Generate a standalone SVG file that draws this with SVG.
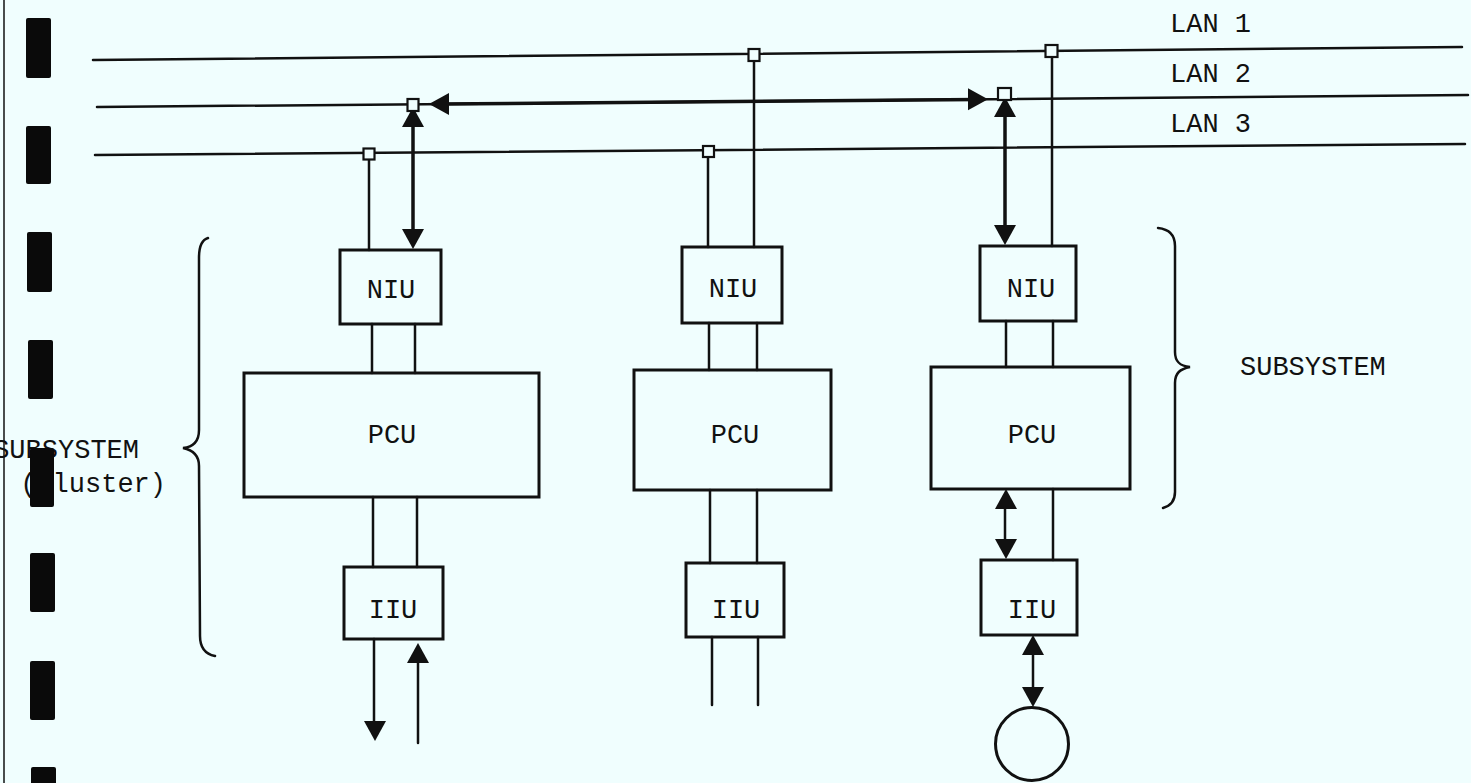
<svg xmlns="http://www.w3.org/2000/svg" xmlns:xlink="http://www.w3.org/1999/xlink" width="1471" height="783" viewBox="0 0 1471 783">
<style>
.ln{stroke:#111;stroke-width:2.5;fill:none;stroke-linecap:round}
.thk{stroke:#111;stroke-width:3.5;fill:none}
.box{fill:none;stroke:#111;stroke-width:3}
.sq{fill:#f0fefe;stroke:#111;stroke-width:2.2}
.tx{font-family:"Liberation Mono","Courier New",monospace;font-size:27px;fill:#111}
.bar{fill:#0a0a0a}
</style>
<defs>
<polygon id="tri" points="0,0 -11,-20 11,-20" fill="#111"/>
</defs>
<rect width="1471" height="783" fill="#f0fefe"/>
<line x1="4" y1="0" x2="4" y2="783" stroke="#111" stroke-width="1.5"/>

<g id="connectors">
<line class="ln" x1="93" y1="60" x2="1462" y2="47"/>
<line class="ln" x1="97" y1="107" x2="1468" y2="95"/>
<line class="ln" x1="95" y1="155" x2="1465" y2="144"/>
<line class="thk" x1="440" y1="104" x2="978" y2="99.5"/>
<use xlink:href="#tri" transform="translate(429,104) rotate(90)"/>
<use xlink:href="#tri" transform="translate(988,99.2) rotate(-90)"/>
<line class="ln" x1="369" y1="154" x2="369" y2="250"/>
<line class="thk" x1="413" y1="120" x2="413" y2="232"/>
<use xlink:href="#tri" transform="translate(413,107) rotate(180)"/>
<use xlink:href="#tri" transform="translate(413,249)"/>
<line class="ln" x1="372" y1="324" x2="372" y2="373"/>
<line class="ln" x1="415" y1="324" x2="415" y2="373"/>
<line class="ln" x1="373" y1="497" x2="373" y2="567"/>
<line class="ln" x1="417" y1="497" x2="417" y2="567"/>
<line class="ln" x1="374" y1="639" x2="374" y2="725"/>
<use xlink:href="#tri" transform="translate(375,741)"/>
<line class="ln" x1="418" y1="655" x2="418" y2="743"/>
<use xlink:href="#tri" transform="translate(418,643) rotate(180)"/>
<line class="ln" x1="754" y1="55" x2="754" y2="247"/>
<line class="ln" x1="708" y1="151" x2="708" y2="247"/>
<line class="ln" x1="709" y1="323" x2="709" y2="370"/>
<line class="ln" x1="757" y1="323" x2="757" y2="370"/>
<line class="ln" x1="710" y1="490" x2="710" y2="563"/>
<line class="ln" x1="757" y1="490" x2="757" y2="563"/>
<line class="ln" x1="712" y1="637" x2="712" y2="705"/>
<line class="ln" x1="758" y1="637" x2="758" y2="705"/>
<line class="ln" x1="1052" y1="51" x2="1052" y2="246"/>
<line class="thk" x1="1005" y1="112" x2="1005" y2="228"/>
<use xlink:href="#tri" transform="translate(1005,97) rotate(180)"/>
<use xlink:href="#tri" transform="translate(1005,245)"/>
<line class="ln" x1="1006" y1="321" x2="1006" y2="367"/>
<line class="ln" x1="1053" y1="321" x2="1053" y2="367"/>
<line class="ln" x1="1005" y1="500" x2="1005" y2="545"/>
<use xlink:href="#tri" transform="translate(1006,489) rotate(180)"/>
<use xlink:href="#tri" transform="translate(1006,559)"/>
<line class="ln" x1="1053" y1="489" x2="1053" y2="560"/>
<line class="ln" x1="1033" y1="648" x2="1033" y2="695"/>
<use xlink:href="#tri" transform="translate(1033,635) rotate(180)"/>
<use xlink:href="#tri" transform="translate(1033,707)"/>
<rect class="sq" x="407.5" y="99" width="11" height="12"/>
<rect class="sq" x="363.5" y="148.5" width="11" height="11"/>
<rect class="sq" x="748.5" y="49" width="11" height="12"/>
<rect class="sq" x="703" y="146" width="11" height="11"/>
<rect class="sq" x="1045.5" y="45" width="12" height="12"/>
<rect class="sq" x="998" y="88" width="13" height="12"/>
</g>

<g id="lan-labels">
<text class="tx" x="1170" y="32">LAN 1</text>
<text class="tx" x="1170" y="82">LAN 2</text>
<text class="tx" x="1170" y="132">LAN 3</text>
</g>

<g id="niu1"><rect class="box" x="340" y="250" width="101" height="74"/><text class="tx" x="391" y="298" text-anchor="middle">NIU</text></g>
<g id="pcu1"><rect class="box" x="244" y="373" width="295" height="124"/><text class="tx" x="392" y="443" text-anchor="middle">PCU</text></g>
<g id="iiu1"><rect class="box" x="344" y="567" width="99" height="72"/><text class="tx" x="393" y="618" text-anchor="middle">IIU</text></g>

<g id="niu2"><rect class="box" x="682" y="247" width="100" height="76"/><text class="tx" x="733" y="297" text-anchor="middle">NIU</text></g>
<g id="pcu2"><rect class="box" x="634" y="370" width="197" height="120"/><text class="tx" x="735" y="443" text-anchor="middle">PCU</text></g>
<g id="iiu2"><rect class="box" x="686" y="563" width="98" height="74"/><text class="tx" x="736" y="618" text-anchor="middle">IIU</text></g>

<g id="niu3"><rect class="box" x="980" y="246" width="96" height="75"/><text class="tx" x="1031" y="297" text-anchor="middle">NIU</text></g>
<g id="pcu3"><rect class="box" x="931" y="367" width="199" height="122"/><text class="tx" x="1032" y="443" text-anchor="middle">PCU</text></g>
<g id="iiu3"><rect class="box" x="981" y="560" width="96" height="75"/><text class="tx" x="1032" y="618" text-anchor="middle">IIU</text></g>
<g id="device"><circle class="box" cx="1032" cy="744" r="36.5"/></g>

<g id="brace-left">
<path class="ln" d="M208,238 C201,240 199,247 199,258 L199,430 C199,442 193,447 183,448 C193,450 199,455 199,466 L200,636 C200,648 205,654 215,656"/>
<text class="tx" x="139" y="458" text-anchor="end">SUBSYSTEM</text>
<text class="tx" x="166" y="492" text-anchor="end">(cluster)</text>
</g>

<g id="brace-right">
<path class="ln" d="M1158,228 C1168,229 1175,234 1175,246 L1175,352 C1175,362 1180,366 1190,367 C1180,369 1175,373 1175,383 L1175,492 C1175,502 1170,506 1163,508"/>
<text class="tx" x="1240" y="375">SUBSYSTEM</text>
</g>

<g id="margin-bars">
<rect class="bar" x="26" y="18" width="25" height="60" rx="2"/>
<rect class="bar" x="26" y="126" width="25" height="58" rx="2"/>
<rect class="bar" x="27" y="232" width="25" height="60" rx="2"/>
<rect class="bar" x="28" y="340" width="25" height="59" rx="2"/>
<rect class="bar" x="30" y="448" width="24" height="59" rx="2"/>
<rect class="bar" x="30" y="553" width="25" height="59" rx="2"/>
<rect class="bar" x="30" y="661" width="25" height="59" rx="2"/>
<rect class="bar" x="31" y="767" width="25" height="20" rx="2"/>
</g>
</svg>
